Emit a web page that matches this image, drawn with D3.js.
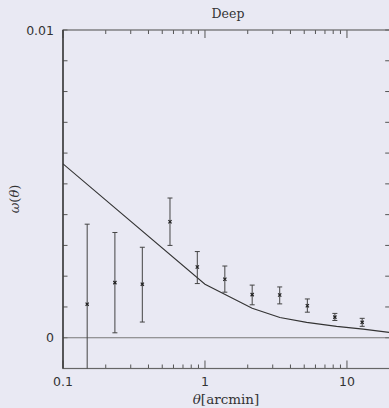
<!DOCTYPE html>
<html>
<head>
<meta charset="utf-8">
<script src="https://cdn.jsdelivr.net/npm/d3@7"></script>
<style>
  html, body { margin: 0; padding: 0; background: #e9e9f3; }
  svg { display: block; }
</style>
</head>
<body>
<div id="chart"></div>
<script>
// measured correlation function, Deep field
const theta = [0.148, 0.232, 0.362, 0.567, 0.883, 1.38, 2.15, 3.36, 5.26, 8.22, 12.8];
const omega = [0.00109, 0.00179, 0.00174, 0.00377, 0.00230, 0.00190, 0.00140, 0.00139, 0.00104, 0.00067, 0.00050];
const omegaHi = [0.00369, 0.00342, 0.00294, 0.00454, 0.00280, 0.00233, 0.00171, 0.00165, 0.00126, 0.00079, 0.00063];
const omegaLo = [-0.0016, 0.00016, 0.00051, 0.00300, 0.00176, 0.00148, 0.00107, 0.00110, 0.00083, 0.00056, 0.00037];

// model curve
const modelTheta = [0.1, 1.0, 2.15, 3.37, 5.2, 8.45, 13.0, 20];
const modelOmega = [0.00565, 0.00174, 0.00096, 0.00066, 0.00050, 0.00037, 0.00028, 0.00017];

const xTickLabels = [0.1, 1, 10];
const yTickLabels = [0, 0.01];

const width = 389;
const height = 408;
const margin = { top: 30, right: -0.7, bottom: 39.5, left: 63 };

const x = d3.scaleLog()
  .domain([0.1, 20])
  .range([margin.left, width - margin.right]);

const y = d3.scaleLinear()
  .domain([-0.001, 0.01])
  .range([height - margin.bottom, margin.top]);

const svg = d3.select('#chart')
  .append('svg')
  .attr('width', width)
  .attr('height', height);

svg.append('rect')
  .attr('width', width)
  .attr('height', height)
  .attr('fill', '#e9e9f3');

svg.append('clipPath')
  .attr('id', 'plot-clip')
  .append('rect')
  .attr('x', margin.left)
  .attr('y', margin.top)
  .attr('width', x.range()[1] - margin.left)
  .attr('height', y.range()[0] - margin.top);

const sans = "'DejaVu Sans', sans-serif";
const serif = "'DejaVu Serif', serif";

// minor ticks on all sides
const xMinor = x.ticks(20);
const yMinor = d3.range(-0.001, 0.01001, 0.001);
const x0 = x.range()[0], x1 = x.range()[1];
const y0 = y.range()[0], y1 = y.range()[1];
const tickColor = '#555';

const isMajor = v => Math.abs(Math.log10(v) - Math.round(Math.log10(v))) < 1e-6;

svg.append('g')
  .selectAll('line')
  .data(xMinor)
  .join('line')
  .attr('x1', d => x(d)).attr('x2', d => x(d))
  .attr('y1', y0).attr('y2', d => y0 - (isMajor(d) ? 8 : 4))
  .attr('stroke', tickColor);

svg.append('g')
  .selectAll('line')
  .data(xMinor)
  .join('line')
  .attr('x1', d => x(d)).attr('x2', d => x(d))
  .attr('y1', y1).attr('y2', d => y1 + (isMajor(d) ? 8 : 4))
  .attr('stroke', tickColor);

svg.append('g')
  .selectAll('line')
  .data(yMinor)
  .join('line')
  .attr('x1', x0).attr('x2', x0 + 4.5)
  .attr('y1', d => y(d)).attr('y2', d => y(d))
  .attr('stroke', tickColor);

svg.append('g')
  .selectAll('line')
  .data(yMinor)
  .join('line')
  .attr('x1', x1).attr('x2', x1 - 4.5)
  .attr('y1', d => y(d)).attr('y2', d => y(d))
  .attr('stroke', tickColor);

// zero line
svg.append('line')
  .attr('x1', x0).attr('x2', x1)
  .attr('y1', y(0)).attr('y2', y(0))
  .attr('stroke', '#777')
  .attr('stroke-width', 1.2);

// frame
svg.append('rect')
  .attr('x', x0).attr('y', y1)
  .attr('width', x1 - x0).attr('height', y0 - y1)
  .attr('fill', 'none')
  .attr('stroke', '#666')
  .attr('stroke-width', 1.2);

svg.append('line')
  .attr('x1', x0).attr('x2', x0)
  .attr('y1', y1).attr('y2', y0)
  .attr('stroke', '#333')
  .attr('stroke-width', 1.3);

// tick labels
svg.append('g')
  .selectAll('text')
  .data(xTickLabels)
  .join('text')
  .attr('x', d => x(d))
  .attr('y', 386)
  .attr('text-anchor', 'middle')
  .attr('font-family', sans)
  .attr('font-size', 12.5)
  .attr('fill', '#333')
  .text(d => d);

svg.append('g')
  .selectAll('text')
  .data(yTickLabels)
  .join('text')
  .attr('x', 54)
  .attr('y', d => y(d) + 4.5)
  .attr('text-anchor', 'end')
  .attr('font-family', sans)
  .attr('font-size', 12.5)
  .attr('fill', '#333')
  .text(d => d);

const plot = svg.append('g').attr('clip-path', 'url(#plot-clip)');

// model line
const line = d3.line()
  .x((d, i) => x(modelTheta[i]))
  .y(d => y(d));

plot.append('path')
  .datum(modelOmega)
  .attr('d', line)
  .attr('fill', 'none')
  .attr('stroke', '#333')
  .attr('stroke-width', 1.1);

// error bars
const pts = theta.map((t, i) => ({ t, w: omega[i], hi: omegaHi[i], lo: omegaLo[i] }));

plot.append('g')
  .selectAll('line')
  .data(pts)
  .join('line')
  .attr('x1', d => x(d.t)).attr('x2', d => x(d.t))
  .attr('y1', d => y(d.hi)).attr('y2', d => y(d.lo))
  .attr('stroke', '#444')
  .attr('stroke-width', 1);

const capW = 2.5;
['hi', 'lo'].forEach(k => {
  plot.append('g')
    .selectAll('line')
    .data(pts)
    .join('line')
    .attr('x1', d => x(d.t) - capW).attr('x2', d => x(d.t) + capW)
    .attr('y1', d => y(d[k])).attr('y2', d => y(d[k]))
    .attr('stroke', '#444')
    .attr('stroke-width', 1);
});

// cross markers
const m = 1.6;
plot.append('g')
  .selectAll('path')
  .data(pts)
  .join('path')
  .attr('d', d => {
    const cx = x(d.t), cy = y(d.w);
    return `M${cx - m},${cy - m}L${cx + m},${cy + m}M${cx - m},${cy + m}L${cx + m},${cy - m}`;
  })
  .attr('stroke', '#222')
  .attr('stroke-width', 1.2);

// title and axis labels
svg.append('text')
  .attr('x', 228)
  .attr('y', 18)
  .attr('text-anchor', 'middle')
  .attr('font-family', serif)
  .attr('font-size', 12.5)
  .attr('fill', '#333')
  .text('Deep');

const xl = svg.append('text')
  .attr('x', 226)
  .attr('y', 404)
  .attr('text-anchor', 'middle')
  .attr('font-family', serif)
  .attr('font-size', 13.5)
  .attr('fill', '#333');
xl.append('tspan').attr('font-style', 'italic').text('θ');
xl.append('tspan').text('[arcmin]');

const yl = svg.append('text')
  .attr('transform', 'translate(19,199) rotate(-90)')
  .attr('text-anchor', 'middle')
  .attr('font-family', serif)
  .attr('font-size', 13)
  .attr('fill', '#333');
yl.append('tspan').attr('font-style', 'italic').text('ω');
yl.append('tspan').text('(');
yl.append('tspan').attr('font-style', 'italic').text('θ');
yl.append('tspan').text(')');
</script>
</body>
</html>
